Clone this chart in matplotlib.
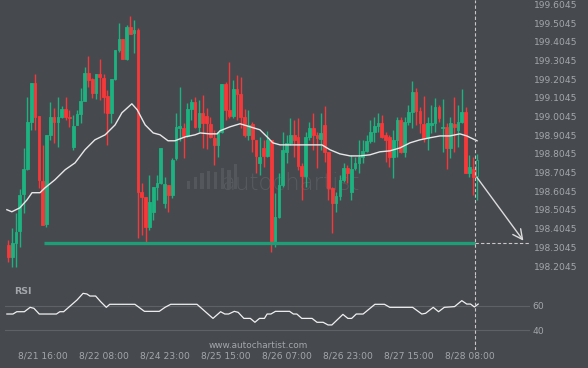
import numpy as np
import matplotlib
matplotlib.use("Agg")
import matplotlib.pyplot as plt
from matplotlib.patches import Rectangle

# ---------------- data ----------------
opens = [198.318, 198.254, 198.329, 198.393, 198.591, 198.725, 198.976, 199.185, 199.008, 198.661,
         198.430, 198.907, 199.003, 198.976, 199.003, 199.046, 199.003, 198.843, 198.960, 199.019,
         199.089, 199.239, 199.206, 199.131, 199.233, 199.212, 199.115, 199.025, 199.206, 199.362,
         199.420, 199.313, 199.485, 199.452, 199.469, 198.602, 198.575, 198.414, 198.495, 198.629,
         198.650, 198.543, 198.640, 198.586, 198.784, 198.944, 198.944, 198.901, 199.046, 199.083,
         198.950, 199.025, 199.008, 198.966, 198.891, 198.853, 198.923, 199.180, 199.041, 199.008,
         199.153, 199.126, 199.003, 198.907, 198.966, 198.880, 198.757, 198.837, 198.794, 198.880,
         198.329, 198.468, 198.640, 198.816, 198.864, 198.907, 198.896, 198.741, 198.687, 198.896,
         198.944, 198.907, 198.885, 198.960, 198.816, 198.623, 198.543, 198.580, 198.666, 198.730,
         198.602, 198.730, 198.757, 198.789, 198.821, 198.875, 198.923, 198.955, 198.971, 198.907,
         198.896, 198.789, 198.880, 198.987, 198.816, 198.976, 199.030, 199.137, 199.035, 198.966,
         198.891, 198.960, 198.971, 199.057, 198.944, 198.950, 198.837, 198.966, 198.934, 198.976,
         199.030, 198.703, 198.725, 198.687]
highs = [198.345, 198.409, 198.490, 198.618, 198.837, 199.110, 199.185, 199.233, 199.008, 198.853,
         198.907, 199.083, 199.051, 199.110, 199.062, 199.110, 199.041, 199.014, 199.041, 199.158,
         199.271, 199.329, 199.212, 199.233, 199.313, 199.233, 199.148, 199.206, 199.362, 199.506,
         199.420, 199.495, 199.543, 199.522, 199.479, 198.650, 198.575, 198.693, 198.629, 198.693,
         198.837, 198.682, 198.640, 198.784, 199.025, 199.164, 198.971, 199.078, 199.099, 199.110,
         199.094, 199.121, 199.051, 199.003, 198.934, 198.923, 199.180, 199.190, 199.297, 199.201,
         199.228, 199.217, 199.046, 199.041, 198.976, 198.880, 198.896, 198.880, 198.928, 198.880,
         198.597, 198.703, 198.923, 198.907, 198.998, 198.987, 198.998, 198.757, 198.923, 198.976,
         199.025, 198.923, 199.025, 199.062, 198.816, 198.629, 198.602, 198.693, 198.757, 198.746,
         198.800, 198.789, 198.880, 198.880, 198.907, 198.987, 199.003, 199.025, 199.014, 198.923,
         198.907, 198.934, 199.003, 199.003, 199.003, 199.067, 199.196, 199.158, 199.057, 199.115,
         199.003, 199.067, 199.105, 199.067, 199.099, 198.971, 199.003, 199.110, 199.067, 199.153,
         199.057, 198.800, 198.789, 198.805]
lows = [198.227, 198.201, 198.201, 198.308, 198.490, 198.720, 198.934, 198.934, 198.623, 198.425,
        198.414, 198.880, 198.864, 198.843, 198.998, 198.987, 198.950, 198.827, 198.960, 198.971,
        199.089, 199.164, 199.105, 199.099, 199.094, 199.025, 198.853, 198.971, 199.201, 199.351,
        199.313, 199.308, 199.447, 199.345, 198.356, 198.372, 198.329, 198.399, 198.452, 198.559,
        198.645, 198.516, 198.495, 198.570, 198.773, 198.875, 198.784, 198.896, 198.987, 198.944,
        198.923, 198.837, 198.832, 198.891, 198.746, 198.789, 198.917, 198.987, 198.998, 198.998,
        198.987, 198.944, 198.896, 198.880, 198.816, 198.703, 198.693, 198.736, 198.789, 198.281,
        198.308, 198.463, 198.629, 198.757, 198.853, 198.789, 198.720, 198.559, 198.629, 198.880,
        198.827, 198.730, 198.827, 198.763, 198.559, 198.382, 198.495, 198.559, 198.655, 198.650,
        198.559, 198.720, 198.703, 198.757, 198.816, 198.864, 198.869, 198.923, 198.891, 198.763,
        198.736, 198.677, 198.789, 198.810, 198.789, 198.960, 198.944, 198.960, 198.917, 198.869,
        198.827, 198.917, 198.923, 198.976, 198.816, 198.725, 198.784, 198.816, 198.843, 198.971,
        198.703, 198.682, 198.586, 198.559]
closes = [198.254, 198.329, 198.388, 198.586, 198.725, 198.976, 199.185, 199.003, 198.666, 198.425,
          198.907, 199.003, 198.976, 199.003, 199.046, 199.003, 198.998, 198.955, 199.019, 199.089,
          199.239, 199.201, 199.131, 199.233, 199.217, 199.110, 199.025, 199.206, 199.362, 199.420,
          199.313, 199.485, 199.447, 199.469, 198.602, 198.575, 198.414, 198.548, 198.629, 198.650,
          198.837, 198.645, 198.586, 198.773, 198.950, 198.955, 198.901, 199.046, 199.083, 198.950,
          199.025, 198.971, 198.971, 198.896, 198.853, 198.923, 199.180, 199.041, 199.008, 199.153,
          199.126, 199.003, 198.907, 198.960, 198.885, 198.794, 198.789, 198.794, 198.880, 198.329,
          198.468, 198.640, 198.827, 198.864, 198.907, 198.880, 198.741, 198.687, 198.896, 198.944,
          198.907, 198.891, 198.917, 198.816, 198.623, 198.543, 198.580, 198.666, 198.730, 198.703,
          198.725, 198.757, 198.789, 198.821, 198.875, 198.923, 198.955, 198.971, 198.896, 198.880,
          198.789, 198.880, 198.987, 198.816, 198.976, 199.030, 199.137, 199.035, 198.971, 198.891,
          198.971, 198.971, 199.057, 198.998, 198.950, 198.837, 198.971, 198.950, 198.976, 199.030,
          198.703, 198.736, 198.682, 198.773]

# moving average : bar position, value
ma_pos = [-0.4, 0.9, 3.0, 4.9, 6.2, 8.3, 9.6, 12.2, 14.9, 17.5, 20.1, 22.7, 25.4, 28.0, 29.8, 32.4,
          33.8, 35.9, 38.0, 39.8, 41.9, 43.7, 46.4, 49.0, 50.3, 52.9, 54.8, 55.5, 58.2, 60.8, 63.4,
          66.0, 67.9, 69.4, 71.3, 73.9, 76.5, 79.2, 82.3, 84.4, 87.0, 89.7, 92.3, 94.9, 97.5, 100.1,
          102.8, 105.4, 108.0, 110.6, 113.3, 115.9, 118.5, 120.3, 123.0]
ma_val = [198.506, 198.495, 198.516, 198.559, 198.597, 198.597, 198.623, 198.666, 198.720, 198.757,
          198.827, 198.880, 198.907, 198.960, 199.025, 199.073, 199.041, 198.960, 198.917, 198.907,
          198.875, 198.875, 198.896, 198.907, 198.917, 198.912, 198.912, 198.928, 198.950, 198.966,
          198.950, 198.934, 198.896, 198.864, 198.853, 198.853, 198.853, 198.853, 198.853, 198.827,
          198.805, 198.794, 198.794, 198.800, 198.816, 198.821, 198.837, 198.864, 198.880, 198.891,
          198.901, 198.901, 198.912, 198.901, 198.875]

# RSI : bar position, value
rsi_pos = [-0.4, 1.2, 2.2, 4.2, 5.7, 6.7, 8.1, 12.6, 13.5, 14.5, 16.5, 18.0, 19.6, 20.6, 21.4, 22.9,
           24.2, 25.7, 26.6, 33.2, 35.7, 39.6, 41.1, 42.6, 49.5, 51.7, 53.7, 55.7, 56.8, 57.8, 59.3,
           60.3, 61.8, 63.5, 64.7, 65.9, 67.2, 67.9, 68.9, 70.1, 73.8, 74.8, 75.7, 77.0, 79.7, 81.0,
           82.6, 83.9, 84.9, 87.8, 89.1, 90.1, 91.3, 93.1, 96.2, 98.7, 100.1, 106.1, 108.5, 109.5,
           111.5, 112.9, 114.4, 117.1, 119.0, 120.3, 121.3, 122.3, 123.3]
rsi_val = [53.4, 53.4, 55.3, 55.3, 58.9, 58.1, 53.4, 53.4, 55.3, 55.3, 60.8, 64.9, 70.4, 69.9, 68.2,
           68.2, 63.6, 58.9, 61.4, 61.4, 55.6, 55.6, 58.9, 61.4, 61.4, 55.3, 49.8, 55.3, 53.4, 53.4,
           55.6, 54.8, 49.8, 49.8, 46.6, 49.8, 49.8, 53.4, 53.4, 55.6, 55.6, 53.4, 53.4, 49.8, 49.8,
           46.6, 46.6, 44.4, 44.4, 53.1, 49.8, 49.8, 53.4, 53.4, 61.4, 61.4, 58.9, 58.9, 53.4, 54.0,
           58.9, 55.3, 58.9, 59.5, 64.4, 61.6, 61.6, 59.2, 61.6]

support_level = 198.328
signal_bar = 122.5
target_bar = 135.6
price_ticks = [198.2045, 198.3045, 198.4045, 198.5045, 198.6045, 198.7045, 198.8045,
               198.9045, 199.0045, 199.1045, 199.2045, 199.3045, 199.4045, 199.5045, 199.6045]
time_tick_bars = [9, 25, 41, 57, 73, 89, 105, 121]
time_tick_labels = ["8/21 16:00", "8/22 08:00", "8/24 23:00", "8/25 15:00",
                    "8/26 07:00", "8/26 23:00", "8/27 15:00", "8/28 08:00"]
rsi_ticks = [40, 60]

# ---------------- style ----------------
BG = "#46494e"
UP = "#1db27f"
DN = "#f5393a"
SUP = "#1f9d76"
TXT = "#a3a7ab"
W, H = 588, 368

fig = plt.figure(figsize=(W / 100, H / 100), dpi=100, facecolor=BG)
plt.rcParams['font.family'] = ['DejaVu Sans']

def frac(x0, y0, x1, y1):
    return [x0 / W, 1 - y1 / H, (x1 - x0) / W, (y1 - y0) / H]

ax = fig.add_axes(frac(5, 0, 530, 275), facecolor=BG)
rx = fig.add_axes(frac(5, 275, 530, 350), facecolor=BG, sharex=ax)

n = len(opens)
idx = np.arange(n)
o = np.array(opens); h = np.array(highs); l = np.array(lows); c = np.array(closes)
up = c >= o
cols = np.where(up, UP, DN)

# watermark
ax.text((221 - 5) / 525, (275 - 190) / 275, "autochartist", transform=ax.transAxes,
        fontsize=16.5, color="#585c61", fontweight="light", ha="left", va="baseline", zorder=0)
bar_h = [6, 9, 12, 14, 13, 16, 15, 19]
for k, bh in enumerate(bar_h):
    x0 = (187 - 5 + k * 6.7) / 525
    ax.add_patch(Rectangle((x0, (275 - 189) / 275), 3.3 / 525, bh * 1.3 / 275,
                           transform=ax.transAxes, color="#54585d", zorder=0, lw=0))

# wicks and bodies
ax.vlines(idx, l, h, colors=cols, lw=1.0, zorder=2)
body_bot = np.minimum(o, c)
body_h = np.maximum(np.abs(c - o), 0.004)
face = list(cols)
face[-1] = BG
ax.bar(idx, body_h, bottom=body_bot, width=0.72, color=face, edgecolor=cols,
       linewidth=0.6, zorder=3)

# moving average
ax.plot(ma_pos, ma_val, color="#e8e8e8", lw=1.0, zorder=4)

# support line
ax.plot([9.4, signal_bar], [support_level, support_level], color=SUP, lw=2.4,
        solid_capstyle="butt", zorder=3)
ax.plot([signal_bar, 137], [support_level, support_level], color="#c8c8c8", lw=0.8,
        ls=(0, (3, 2)), zorder=3)

# forecast arrow
ax.annotate("", xy=(target_bar, support_level), xytext=(signal_bar, closes[-2] + 0.01),
            arrowprops=dict(arrowstyle="->,head_length=0.7,head_width=0.35",
                            color="#dcdcdc", lw=1.0), zorder=5)

# vertical dashed line
for a in (ax, rx):
    a.axvline(signal_bar, color="#c8c8c8", lw=0.8, ls=(0, (3, 2)), zorder=5)

ax.set_xlim(-0.89, 136.9)
ax.set_ylim(198.1565, 199.6286)
ax.yaxis.tick_right()
ax.set_yticks(price_ticks)
ax.set_yticklabels([f"{v:.4f}" for v in price_ticks])
ax.tick_params(axis="y", length=0, pad=3, labelsize=6.6, labelcolor=TXT)
ax.tick_params(axis="x", length=0, labelbottom=False)
for s in ax.spines.values():
    s.set_visible(False)

# RSI panel
rx.plot(rsi_pos, rsi_val, color="#f0f0f0", lw=0.9, zorder=4)
for v in rsi_ticks:
    rx.axhline(v, color="#5e6267", lw=0.8, zorder=1)
rx.set_ylim(23.8, 85.5)
rx.yaxis.tick_right()
rx.set_yticks(rsi_ticks)
rx.tick_params(axis="y", length=0, pad=2, labelsize=6.6, labelcolor=TXT)
rx.set_xticks(time_tick_bars)
rx.set_xticklabels(time_tick_labels)
rx.tick_params(axis="x", length=0, pad=1, labelsize=6.6, labelcolor=TXT)
for s in rx.spines.values():
    s.set_visible(False)
rx.text((14 - 5) / 525, (350 - 291) / 75, "RSI", transform=rx.transAxes,
        fontsize=6.8, fontweight="bold", color=TXT, va="center", ha="left")
rx.text((258 - 5) / 525, (350 - 345) / 75, "www.autochartist.com", transform=rx.transAxes,
        fontsize=6.4, color=TXT, ha="center", va="center")

fig.savefig("out.png", dpi=100, facecolor=BG)
